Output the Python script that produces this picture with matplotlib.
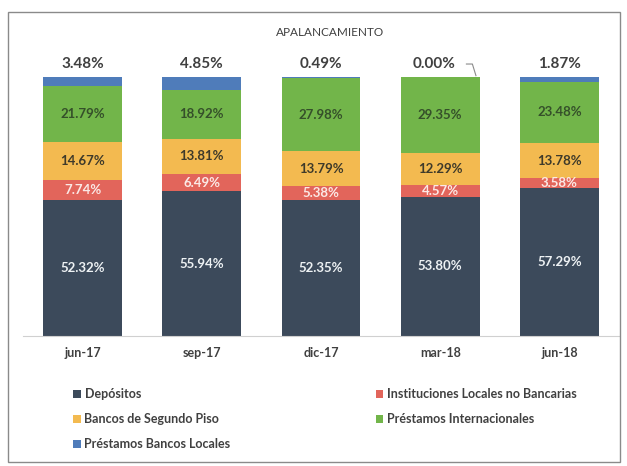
import numpy as np
import matplotlib.pyplot as plt
from matplotlib.patches import Rectangle, Patch

plt.rcParams['font.family'] = ['Lato', 'DejaVu Sans']

periodos = ["jun-17", "sep-17", "dic-17", "mar-18", "jun-18"]
depositos = [52.32, 55.94, 52.35, 53.80, 57.29]
inst_locales = [7.74, 6.49, 5.38, 4.57, 3.58]
segundo_piso = [14.67, 13.81, 13.79, 12.29, 13.78]
prest_internac = [21.79, 18.92, 27.98, 29.35, 23.48]
prest_bancos_loc = [3.48, 4.85, 0.49, 0.00, 1.87]

series = [
    ("Depósitos", depositos, "#3c4a5b", "#eef2f4"),
    ("Instituciones Locales no Bancarias", inst_locales, "#e2655b", "#fbe9e6"),
    ("Bancos de Segundo Piso", segundo_piso, "#f3ba50", "#3e3a2a"),
    ("Préstamos Internacionales", prest_internac, "#72b54a", "#35502a"),
    ("Préstamos Bancos Locales", prest_bancos_loc, "#4f7cba", "#404040"),
]

fig = plt.figure(figsize=(6.27, 4.66), dpi=100)
fig.patches.append(Rectangle((8 / 627, 4 / 466), 612 / 627, 450 / 466, transform=fig.transFigure,
                             fill=False, edgecolor="#8a8a8a", linewidth=1.0))

ax = fig.add_axes([23 / 627, 130 / 466, 596 / 627, 259 / 466])
x = np.arange(len(periodos))
bottom = np.zeros(len(periodos))
for name, vals, color, tcolor in series:
    vals = np.array(vals)
    ax.bar(x, vals, width=0.66, bottom=bottom, color=color, label=name)
    for i, v in enumerate(vals):
        if name == "Préstamos Bancos Locales":
            continue
        ax.text(x[i], bottom[i] + v / 2, f"{v:.2f}%", ha="center", va="center",
                color=tcolor, fontsize=9.5, fontweight="bold")
    bottom += vals

# etiquetas arriba (Préstamos Bancos Locales)
for i, v in enumerate(prest_bancos_loc):
    xo = -0.05 if i == 3 else 0
    ax.text(x[i] + xo, bottom[i] + 5, f"{v:.2f}%", ha="center", va="center",
            color="#404040", fontsize=11, fontweight="bold", clip_on=False)
# linea guia para 0.00%
ax.plot([x[3] + 0.22, x[3] + 0.27, x[3] + 0.3], [bottom[3] + 5, bottom[3] + 5, bottom[3] + 0.5],
        color="#8a8a8a", linewidth=0.8, clip_on=False)

ax.set_xlim(-0.5, 4.5)
ax.set_ylim(0, 100)
ax.set_xticks(x)
ax.set_xticklabels(periodos, fontsize=9, fontweight="bold", color="#404040")
ax.tick_params(axis="x", length=0, pad=8)
ax.set_yticks([])
for s in ["top", "right", "left"]:
    ax.spines[s].set_visible(False)
ax.spines["bottom"].set_color("#d0d0d0")

fig.text(330 / 627, 1 - 33 / 466, "APALANCAMIENTO", ha="center", va="center",
         fontsize=8.5, color="#404040")

order = [0, 2, 4, 1, 3]
handles = [Patch(facecolor=series[k][2], label=series[k][0]) for k in order]
fig.legend(handles=handles, ncol=2, loc="upper left", bbox_to_anchor=(62 / 627, 1 - 377 / 466),
           frameon=False, handlelength=0.6, handleheight=0.6, handletextpad=0.3,
           columnspacing=11.6, labelspacing=1.05, prop={"weight": "bold", "size": 9},
           labelcolor="#404040")

fig.savefig("out.png", dpi=100)
